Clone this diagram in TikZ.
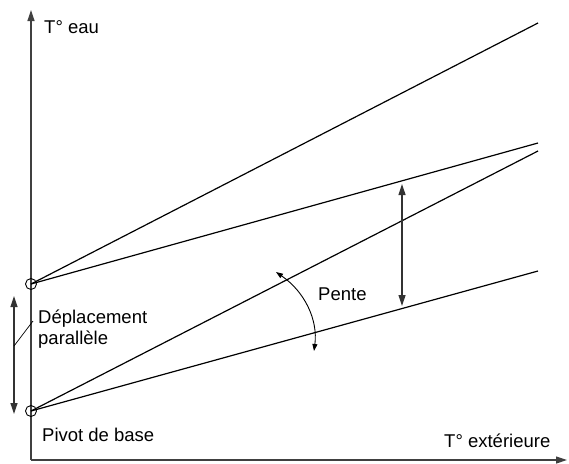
\documentclass[tikz,border=0pt]{standalone}
\usepackage{fontspec}
\setmainfont{Liberation Sans}
\usetikzlibrary{arrows.meta}
\begin{document}
\begin{tikzpicture}[x=1pt,y=-1pt,
  lbl/.style={font=\fontsize{18.5}{21}\selectfont, inner sep=0pt},
  curve/.style={line width=1.2pt, black},
  axis/.style={line width=1.2pt, black!75, -{Triangle[length=11pt,width=7pt]}},
  dbl/.style={line width=1.2pt, black!80, {Triangle[length=11pt,width=7pt]}-{Triangle[length=11pt,width=7pt]}},
  pivot/.style={circle, draw, line width=0.9pt, minimum size=11pt, inner sep=0pt}]
\useasboundingbox (0,0) rectangle (569,463);
% axes
\coordinate (o) at (31,460);
\coordinate (ytop) at (31,10);
\coordinate (xend) at (567,460);
\draw[axis] (o) -- (ytop);
\draw[axis] (o) -- (xend);
% pivots
\node[pivot] (p1) at (31,284) {};
\node[pivot] (p2) at (31,411) {};
\coordinate (p1c) at (31,284);
\coordinate (p2c) at (31,411);
% line ends
\coordinate (a1) at (538,23);
\coordinate (a2) at (538,143);
\coordinate (b1) at (538,151);
\coordinate (b2) at (538,271);
\draw[curve] (p1c) -- (a1);
\draw[curve] (p1c) -- (a2);
\draw[curve] (p2c) -- (b1);
\draw[curve] (p2c) -- (b2);
% vertical double arrow
\coordinate (v1) at (402,184);
\coordinate (v2) at (402,306);
\draw[dbl] (v1) -- (v2);
% left double arrow
\coordinate (l1) at (14,296);
\coordinate (l2) at (14,414);
\draw[dbl] (l1) -- (l2);
\coordinate (lead1) at (14,346);
\coordinate (lead2) at (33,321);
\draw[line width=0.7pt] (lead1) -- (lead2);
% slope arc
\coordinate (s1) at (276,272);
\coordinate (s2) at (314,351);
\draw[line width=0.9pt, {Triangle[length=7pt,width=5pt]}-{Triangle[length=7pt,width=5pt]}] (s1) .. controls (305,292) and (318,320) .. (s2);
% labels
\node[lbl, anchor=west] (teau) at (44,27) {T° eau};
\node[lbl, anchor=west] (text) at (444,441) {T° extérieure};
\node[lbl, anchor=west] (pente) at (318,294) {Pente};
\node[lbl, anchor=west, align=left] (depl) at (38,329) {Déplacement\\parallèle};
\node[lbl, anchor=west] (pivot) at (42,435) {Pivot de base};
\end{tikzpicture}
\end{document}
